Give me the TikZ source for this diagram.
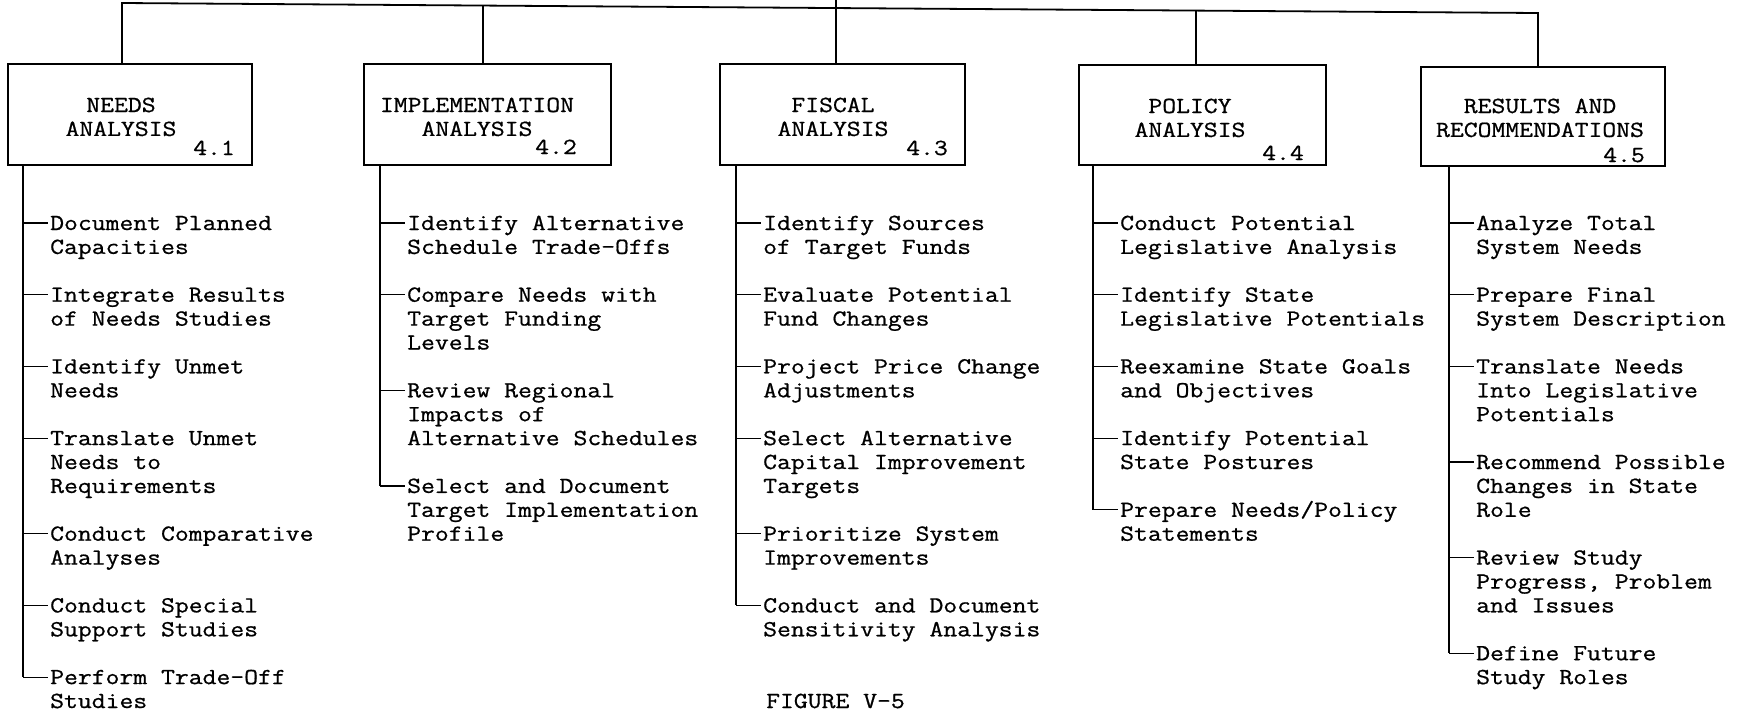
\documentclass[tikz,border=0pt]{standalone}
\usepackage{fontspec}
\newfontfamily\tw[FakeStretch=1.17,FakeBold=0.8]{Latin Modern Mono}
\usetikzlibrary{calc}
\newcommand\ml[1]{\begin{tabular}[t]{@{}l@{}}#1\end{tabular}}
\newcommand\mc[1]{\begin{tabular}[t]{@{}c@{}}#1\end{tabular}}
\newcommand\twig[2]{\draw[branch] ([yshift=7pt]#1.base west -| #2) -- ([shift={(-2pt,7pt)}]#1.base west);}
\begin{document}
\begin{tikzpicture}[x=1pt,y=-1pt,
  every node/.style={font=\tw\fontsize{23}{23.9}\selectfont, inner sep=0pt},
  box/.style={draw, line width=1.8pt, anchor=north west},
  conn/.style={line width=1.8pt, line join=miter},
  branch/.style={line width=1.2pt},
  item/.style={anchor=base west},
  title/.style={anchor=base},
  num/.style={anchor=base east}]
\useasboundingbox (0,0) rectangle (1748,713);

% boxes
\node[box, minimum width=244pt, minimum height=101pt] (b1) at (7,63) {};
\node[box, minimum width=247pt, minimum height=101pt] (b2) at (363,63) {};
\node[box, minimum width=245pt, minimum height=101pt] (b3) at (719,63) {};
\node[box, minimum width=247pt, minimum height=100pt] (b4) at (1078,64) {};
\node[box, minimum width=244pt, minimum height=99pt] (b5) at (1420,66) {};

% titles
\node[title] (t1) at (121,112) {\mc{NEEDS\\ANALYSIS}};
\node[title] (t2) at (477,112) {\mc{IMPLEMENTATION\\ANALYSIS}};
\node[title] (t3) at (833,112) {\mc{FISCAL\\ANALYSIS}};
\node[title] (t4) at (1190,113) {\mc{POLICY\\ANALYSIS}};
\node[title] (t5) at (1540,113) {\mc{RESULTS AND\\RECOMMENDATIONS}};
\node[num] (n1) at (235,155) {4.1};
\node[num] (n2) at (577,154) {4.2};
\node[num] (n3) at (948,155) {4.3};
\node[num] (n4) at (1304,160) {4.4};
\node[num] (n5) at (1645,162) {4.5};

% top connectors
\coordinate (tl) at (122,3);
\coordinate (tr) at (1538,13);
\coordinate (c2) at (483,5.5);
\coordinate (c3) at (836,8);
\coordinate (c4) at (1196,10.5);
\coordinate (stem) at (836,0);
\draw[conn] (b1.north -| tl) -- (tl) -- (tr) -- (b5.north -| tr);
\draw[conn] (b2.north -| c2) -- (c2);
\draw[conn] (b3.north -| stem) -- (stem);
\draw[conn] (b4.north -| c4) -- (c4);

% column coordinates
\coordinate (v1) at (23,164);
\coordinate (v2) at (380,164);
\coordinate (v3) at (736,164);
\coordinate (v4) at (1093,164);
\coordinate (v5) at (1449,165);

% column 1
\node[item] (a1) at (50,230) {\ml{Document Planned\\Capacities}};
\node[item] (a2) at (50,301.7) {\ml{Integrate Results\\of Needs Studies}};
\node[item] (a3) at (50,373.4) {\ml{Identify Unmet\\Needs}};
\node[item] (a4) at (50,445.1) {\ml{Translate Unmet\\Needs to\\Requirements}};
\node[item] (a5) at (50,540.7) {\ml{Conduct Comparative\\Analyses}};
\node[item] (a6) at (50,612.4) {\ml{Conduct Special\\Support Studies}};
\node[item] (a7) at (50,684.1) {\ml{Perform Trade-Off\\Studies}};
\draw[conn] (b1.south -| v1) -- ([yshift=7pt]a7.base west -| v1);
\foreach \n in {a1,a2,a3,a4,a5,a6,a7} {\twig{\n}{v1}}

% column 2
\node[item] (p1) at (407,230) {\ml{Identify Alternative\\Schedule Trade-Offs}};
\node[item] (p2) at (407,301.7) {\ml{Compare Needs with\\Target Funding\\Levels}};
\node[item] (p3) at (407,397.3) {\ml{Review Regional\\Impacts of\\Alternative Schedules}};
\node[item] (p4) at (407,492.9) {\ml{Select and Document\\Target Implementation\\Profile}};
\draw[conn] (b2.south -| v2) -- ([yshift=7pt]p4.base west -| v2);
\foreach \n in {p1,p2,p3,p4} {\twig{\n}{v2}}

% column 3
\node[item] (f1) at (763,230) {\ml{Identify Sources\\of Target Funds}};
\node[item] (f2) at (763,301.7) {\ml{Evaluate Potential\\Fund Changes}};
\node[item] (f3) at (763,373.4) {\ml{Project Price Change\\Adjustments}};
\node[item] (f4) at (763,445.1) {\ml{Select Alternative\\Capital Improvement\\Targets}};
\node[item] (f5) at (763,540.7) {\ml{Prioritize System\\Improvements}};
\node[item] (f6) at (763,612.4) {\ml{Conduct and Document\\Sensitivity Analysis}};
\draw[conn] (b3.south -| v3) -- ([yshift=7pt]f6.base west -| v3);
\foreach \n in {f1,f2,f3,f4,f5,f6} {\twig{\n}{v3}}

% column 4
\node[item] (q1) at (1120,230) {\ml{Conduct Potential\\Legislative Analysis}};
\node[item] (q2) at (1120,301.7) {\ml{Identify State\\Legislative Potentials}};
\node[item] (q3) at (1120,373.4) {\ml{Reexamine State Goals\\and Objectives}};
\node[item] (q4) at (1120,445.1) {\ml{Identify Potential\\State Postures}};
\node[item] (q5) at (1120,516.8) {\ml{Prepare Needs/Policy\\Statements}};
\draw[conn] (b4.south -| v4) -- ([yshift=7pt]q5.base west -| v4);
\foreach \n in {q1,q2,q3,q4,q5} {\twig{\n}{v4}}

% column 5
\node[item] (r1) at (1476,230) {\ml{Analyze Total\\System Needs}};
\node[item] (r2) at (1476,301.7) {\ml{Prepare Final\\System Description}};
\node[item] (r3) at (1476,373.4) {\ml{Translate Needs\\Into Legislative\\Potentials}};
\node[item] (r4) at (1476,469) {\ml{Recommend Possible\\Changes in State\\Role}};
\node[item] (r5) at (1476,564.6) {\ml{Review Study\\Progress, Problem\\and Issues}};
\node[item] (r6) at (1476,660.2) {\ml{Define Future\\Study Roles}};
\draw[conn] (b5.south -| v5) -- ([yshift=7pt]r6.base west -| v5);
\foreach \n in {r1,r2,r3,r4,r5,r6} {\twig{\n}{v5}}

% caption
\node[item] (cap) at (766,708) {FIGURE V-5};
\end{tikzpicture}
\end{document}
